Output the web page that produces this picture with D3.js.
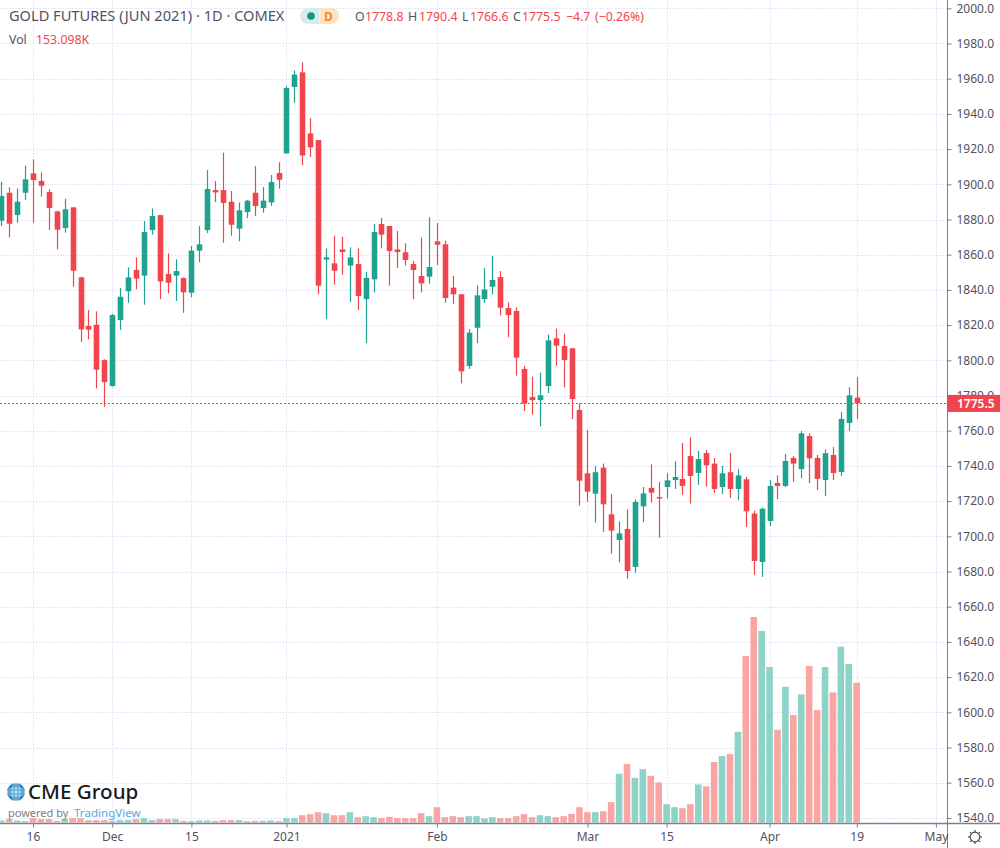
<!DOCTYPE html>
<html><head><meta charset="utf-8">
<script src="https://cdn.jsdelivr.net/npm/d3@7/dist/d3.min.js"></script>
<style>html,body{margin:0;padding:0;background:#fff}svg{display:block}text{font-family:"Noto Sans",sans-serif}</style>
</head><body><div id="chart"></div>
<script>
const opens=[1879.3,1895.2,1882.5,1895.2,1906.2,1901.9,1895.6,1884.6,1875.2,1886.9,1847.1,1819.5,1820.2,1800.1,1785.4,1822.9,1839.2,1851.3,1848.1,1874.0,1882.5,1849.0,1848.1,1846.7,1838.4,1862.3,1874.0,1896.7,1896.7,1890.1,1874.8,1884.2,1895.2,1886.5,1889.7,1906.4,1917.6,1955.3,1963.6,1928.9,1925.1,1857.2,1855.1,1863.0,1853.8,1854.7,1834.8,1846.0,1877.4,1876.3,1863.0,1861.4,1854.7,1847.9,1847.5,1867.6,1865.9,1841.3,1837.5,1796.8,1818.5,1834.8,1841.8,1847.3,1829.7,1828.0,1795.1,1779.1,1777.4,1785.4,1812.5,1808.1,1806.8,1771.8,1735.8,1724.2,1739.0,1712.5,1697.9,1704.2,1682.6,1717.0,1727.5,1722.3,1728.0,1732.0,1732.6,1745.6,1736.0,1747.3,1741.3,1728.0,1736.4,1726.9,1732.4,1712.9,1685.4,1708.7,1730.3,1728.6,1744.5,1738.2,1757.0,1744.5,1732.0,1746.2,1736.5,1764.4,1778.8];
const highs=[1901.5,1898.3,1897.7,1910.6,1914.2,1906.8,1897.1,1885.0,1891.8,1886.9,1847.5,1828.6,1827.8,1800.6,1826.3,1841.2,1852.8,1858.5,1879.1,1886.3,1882.5,1860.8,1857.4,1847.1,1864.9,1876.3,1908.1,1901.9,1918.0,1896.2,1889.7,1891.1,1910.4,1898.4,1905.3,1912.5,1955.8,1964.7,1969.3,1937.5,1925.1,1863.6,1870.8,1870.2,1864.2,1863.6,1850.2,1877.4,1880.9,1876.3,1873.5,1866.5,1856.4,1869.7,1881.2,1878.0,1868.0,1847.9,1837.7,1817.8,1842.6,1852.4,1859.3,1850.7,1832.9,1830.1,1796.8,1790.7,1793.0,1814.6,1818.0,1815.1,1807.0,1775.6,1760.4,1740.0,1741.3,1724.0,1708.5,1715.3,1721.0,1728.0,1740.9,1730.9,1735.8,1742.6,1753.0,1756.2,1748.5,1749.0,1744.5,1740.1,1747.3,1738.1,1733.7,1714.6,1716.3,1732.0,1734.6,1746.8,1745.6,1759.8,1758.5,1746.2,1749.4,1750.8,1770.6,1784.7,1790.4];
const lows=[1876.3,1869.8,1878.2,1891.1,1878.2,1893.0,1874.0,1863.0,1872.5,1841.8,1810.4,1811.9,1784.0,1773.6,1785.0,1817.2,1832.7,1840.3,1831.6,1871.4,1834.8,1838.0,1833.7,1827.0,1835.9,1855.8,1872.3,1889.9,1866.8,1870.8,1867.6,1880.8,1882.0,1883.9,1887.7,1897.5,1917.4,1946.4,1910.9,1915.5,1837.5,1823.4,1843.0,1848.7,1833.1,1828.6,1809.8,1838.6,1863.6,1842.4,1852.4,1853.8,1834.8,1838.6,1843.5,1854.1,1832.7,1832.0,1786.9,1795.1,1809.8,1832.6,1837.5,1825.4,1813.1,1791.3,1771.2,1769.1,1762.5,1781.4,1796.8,1784.6,1766.6,1717.4,1719.7,1707.8,1702.5,1690.1,1685.2,1675.9,1679.3,1708.1,1719.1,1699.2,1721.4,1726.9,1723.5,1718.6,1729.2,1728.2,1724.6,1724.0,1721.8,1720.6,1705.3,1678.0,1676.9,1705.9,1721.2,1728.0,1730.9,1732.9,1730.3,1726.3,1722.9,1732.0,1734.3,1759.8,1766.6];
const closes=[1893.3,1877.6,1890.1,1902.8,1902.4,1899.2,1886.5,1874.2,1885.8,1850.9,1817.6,1817.4,1794.7,1787.6,1825.7,1836.1,1847.1,1846.4,1872.9,1882.0,1844.8,1844.1,1850.7,1838.6,1862.3,1865.9,1897.3,1895.4,1889.4,1877.0,1885.2,1890.7,1887.7,1890.7,1901.3,1902.6,1954.7,1962.3,1916.4,1921.0,1842.4,1858.5,1850.9,1861.5,1858.5,1836.5,1846.8,1872.9,1871.4,1862.1,1861.5,1857.0,1851.3,1843.7,1853.0,1865.7,1835.4,1837.5,1793.7,1815.7,1836.9,1840.3,1845.6,1829.9,1825.7,1801.5,1775.4,1777.4,1780.1,1811.3,1808.3,1800.2,1778.0,1731.6,1725.4,1736.4,1718.2,1703.2,1701.7,1680.3,1719.5,1724.4,1724.8,1721.8,1731.8,1733.7,1728.6,1734.3,1743.9,1740.3,1726.9,1735.8,1726.9,1734.6,1714.2,1686.0,1715.7,1728.6,1728.6,1742.8,1741.3,1758.5,1744.3,1732.6,1747.2,1736.0,1766.7,1780.1,1775.5];
const volumes=[2.2,3.7,2.2,1.5,4.8,3.7,3.7,1.8,3.7,4.8,4.8,2.6,2.6,2.6,1.8,2.6,2.6,3.7,4.8,2.6,3.7,3.7,3.7,1.8,1.5,2.2,2.2,1.8,2.6,2.6,2.6,1.5,1.8,1.8,2.2,1.5,4.8,4.8,8.0,9.1,11.3,10.2,8.0,8.0,11.3,5.8,6.9,5.8,4.8,6.2,4.8,4.8,4.8,10.2,6.9,16.8,5.8,6.9,5.8,6.9,6.9,4.4,5.8,4.8,4.8,6.9,9.1,5.8,8.0,6.9,5.8,6.9,9.5,16.8,11.3,11.3,12.4,22.3,53.4,64.0,49.0,58.5,51.2,43.9,20.1,16.8,15.7,20.1,41.7,39.5,66.2,72.8,74.9,99.4,182.4,225.2,209.9,170.4,101.6,148.8,117.7,140.4,171.5,123.2,170.4,142.6,192.7,173.7,153.098];
const priceTicks=[1540,1560,1580,1600,1620,1640,1660,1680,1700,1720,1740,1760,1780,1800,1820,1840,1860,1880,1900,1920,1940,1960,1980,2000];
const timeTickIndex=[4,14,24,36,55,74,84,97,108,118];
const timeTickLabels=["16","Dec","15","2021","Feb","Mar","15","Apr","19","May"];
const lastPrice=1775.5;

const W=1000,H=848;
const UP="#1fa28e",DOWN="#f1454d",UPV="#8ed3c8",DOWNV="#f9a5a3",GRID="#e4e8f6",AXIS="#7d808a",TXT="#50535e";
const axisX=947.5,axisY=823.5;
const x=d3.scaleLinear().domain([0,108]).range([1.3,856.7]);
const y=d3.scaleLinear().domain([1540,2000]).range([817.9,8.3]);
const yv=d3.scaleLinear().domain([0,225.2]).range([822.5,617]);
const svg=d3.select("#chart").append("svg").attr("width",W).attr("height",H);
svg.append("rect").attr("width",W).attr("height",H).attr("fill","#fff");

// grid
const grid=svg.append("g").attr("fill","none").attr("stroke",GRID).attr("stroke-dasharray","2,1");
grid.selectAll("line.h").data(priceTicks).join("line").attr("class","h")
  .attr("x1",0).attr("x2",axisX).attr("y1",d=>Math.round(y(d))+.5).attr("y2",d=>Math.round(y(d))+.5);
grid.selectAll("line.v").data(timeTickIndex).join("line").attr("class","v")
  .attr("y1",0).attr("y2",axisY).attr("x1",d=>Math.round(x(d))+.5).attr("x2",d=>Math.round(x(d))+.5);

const idx=d3.range(closes.length);
const isUp=i=>closes[i]>=opens[i];
// volume
svg.append("g").selectAll("rect").data(idx).join("rect")
  .attr("x",i=>x(i)-3.3).attr("width",6.6)
  .attr("y",i=>yv(volumes[i])).attr("height",i=>yv(0)-yv(volumes[i]))
  .attr("fill",i=>isUp(i)?UPV:DOWNV);

// last price line
svg.append("line").attr("x1",0).attr("x2",axisX)
  .attr("y1",Math.round(y(lastPrice))+.5).attr("y2",Math.round(y(lastPrice))+.5)
  .attr("stroke",DOWN).attr("stroke-dasharray","2,2");

// candles
const candles=svg.append("g");
candles.selectAll("line").data(idx).join("line")
  .attr("x1",i=>Math.round(x(i))+.5).attr("x2",i=>Math.round(x(i))+.5)
  .attr("y1",i=>y(highs[i])).attr("y2",i=>y(lows[i]))
  .attr("stroke",i=>isUp(i)?UP:DOWN).attr("stroke-width",1.2);
candles.selectAll("rect").data(idx).join("rect")
  .attr("x",i=>Math.round(x(i))-2.3).attr("width",5.6)
  .attr("y",i=>y(Math.max(opens[i],closes[i])))
  .attr("height",i=>Math.max(1.5,Math.abs(y(opens[i])-y(closes[i]))))
  .attr("fill",i=>isUp(i)?UP:DOWN);

// axes
const yAxis=d3.axisRight(y).tickValues(priceTicks).tickFormat(d3.format(".1f")).tickSize(4).tickPadding(5);
const gy=svg.append("g").attr("transform",`translate(${axisX},0)`).call(yAxis);
gy.select(".domain").attr("d",`M0,0V${H}`).attr("stroke",AXIS);
gy.selectAll(".tick line").attr("stroke",AXIS);
gy.selectAll(".tick text").attr("fill",TXT).style("font-size","12px");

const xAxis=d3.axisBottom(x).tickValues(timeTickIndex).tickFormat(d=>timeTickLabels[timeTickIndex.indexOf(d)]).tickSize(4).tickPadding(5);
const gx=svg.append("g").attr("transform",`translate(0,${axisY})`).call(xAxis);
gx.select(".domain").attr("d",`M0,0H${W}`).attr("stroke",AXIS).attr("stroke-width",1.5);
gx.selectAll(".tick line").attr("stroke",AXIS);
gx.selectAll(".tick text").attr("fill",TXT).style("font-size","12px");

// last price label
svg.append("rect").attr("x",947).attr("y",y(lastPrice)-8.5).attr("width",53).attr("height",17).attr("fill",DOWN);
svg.append("text").attr("x",957).attr("y",y(lastPrice)+4.5).attr("fill","#fff").style("font-size","12px").style("font-weight",600).text(d3.format(".1f")(lastPrice));

// header
const put=(t,px,py,size,fill,w)=>svg.append("text").attr("x",px).attr("y",py).attr("fill",fill).style("font-size",size+"px").style("font-weight",w||400).text(t);
put("GOLD FUTURES (JUN 2021) · 1D · COMEX",9,21,14.6,TXT);
svg.append("path").attr("d","M308,8H319.5V24H308A8,8 0 0 1 308,8Z").attr("fill","#d6ede9");
svg.append("path").attr("d","M319.5,8H331A8,8 0 0 1 331,24H319.5Z").attr("fill","#fde2c6");
svg.append("circle").attr("cx",311).attr("cy",16).attr("r",3.8).attr("fill","#14957f");
put("D",324,21,12,"#f08a24",700);
const ohlc=[["O",355,TXT],["1778.8",365,DOWN],["H",408,TXT],["1790.4",419,DOWN],["L",462,TXT],["1766.6",470,DOWN],["C",513,TXT],["1775.5",522,DOWN],["−4.7",566,DOWN],["(−0.26%)",595,DOWN]];
ohlc.forEach(d=>put(d[0],d[1],21,12.3,d[2]));
put("Vol",9,44,12.3,TXT);
put("153.098K",36,44,12.3,DOWN);

// logo
const globe=svg.append("g");
const defs=svg.append("defs");
const rg=defs.append("radialGradient").attr("id","gl");
rg.append("stop").attr("offset","0%").attr("stop-color","#7cc6ea");
rg.append("stop").attr("offset","100%").attr("stop-color","#1a77b5");
globe.append("circle").attr("cx",16).attr("cy",792).attr("r",9).attr("fill","url(#gl)");
globe.append("g").attr("fill","none").attr("stroke","#d9eef8").attr("stroke-width",.7).call(g=>{
  g.append("ellipse").attr("cx",16).attr("cy",792).attr("rx",4).attr("ry",9);
  g.append("ellipse").attr("cx",16).attr("cy",792).attr("rx",9).attr("ry",4);
  g.append("line").attr("x1",16).attr("x2",16).attr("y1",783).attr("y2",801);
  g.append("line").attr("x1",7).attr("x2",25).attr("y1",792).attr("y2",792);
});
put("CME Group",28,799,20.6,"#1a1a1a",500);
put("powered by",8,817,11,"#7d7d7d");
put("TradingView",74,817,11.6,"#55a7dd");

// settings gear
const gear=svg.append("g").attr("transform","translate(975,837)").attr("stroke","#4a4d57").attr("fill","none").attr("stroke-width",1.2);
gear.append("circle").attr("r",4.8);
d3.range(8).forEach(k=>{const a=k*Math.PI/4;gear.append("line").attr("x1",4.8*Math.cos(a)).attr("y1",4.8*Math.sin(a)).attr("x2",7*Math.cos(a)).attr("y2",7*Math.sin(a));});
</script></body></html>
